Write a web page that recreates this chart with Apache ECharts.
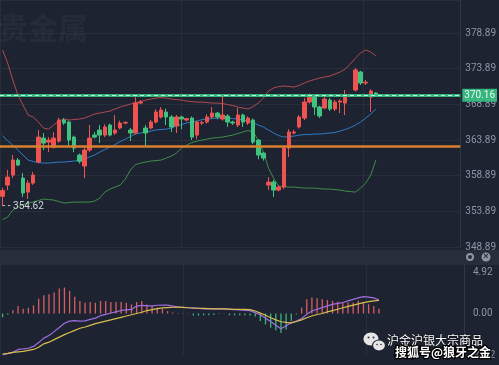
<!DOCTYPE html>
<html><head><meta charset="utf-8">
<script src="https://cdn.jsdelivr.net/npm/echarts@6/dist/echarts.min.js"></script>
<style>html,body{margin:0;padding:0;background:#1d2331;}#c{width:499px;height:365px;}</style>
</head><body><div id="c"></div>
<script>
// 90 slots on the time axis (74 candles + empty space on the right)
const categories = Array.from({length: 90}, (_, i) => 'K' + (i + 1));

const open = [356.0,357.57,358.97,361.08,358.55,356.59,357.85,360.80,364.16,363.6,
362.90,363.74,366.69,366.41,364.3,361.78,360.24,362.48,364.58,365.29,
364.58,365.99,364.87,365.57,366.27,365.29,364.87,369.07,365.57,365.57,
366.41,367.11,367.81,367.11,365.85,367.11,366.7,366.97,364.58,366.27,
366.41,367.11,367.67,366.83,367.25,366.41,365.99,367.39,366.27,366.69,
363.88,362.06,357.57,357.99,356.87,357.29,362.76,364.87,365.71,366.97,
369.21,369.91,368.51,368.37,369.49,368.23,369.21,369.07,370.1,370.90,
373.42,371.88,369.91,370.48];
const close = [356.8,358.69,361.08,360.38,356.45,357.85,358.97,364.30,363.46,363.88,
364.16,366.69,366.27,363.88,362.76,360.9,362.48,364.16,364.3,364.58,
365.71,364.58,365.29,366.27,366.35,364.87,369.07,369.21,364.87,366.41,
367.81,368.09,367.11,365.71,367.11,366.83,366.9,364.30,366.41,366.35,
367.11,367.67,367.11,367.39,366.41,366.27,367.39,366.41,366.97,363.60,
361.78,361.36,357.99,356.87,357.29,362.76,365.01,365.01,367.11,369.21,
369.91,368.51,367.25,369.63,368.23,369.21,369.35,369.91,370.2,373.70,
371.88,372.0,370.76,370.16];
const low = [354.62,356.87,358.55,360.24,355.89,355.61,357.6,360.6,362.48,362.2,
362.7,363.5,366.0,363.18,362.2,360.6,358.55,362.2,364.1,363.46,
364.3,364.4,364.58,365.4,366.1,363.74,364.7,368.9,362.9,365.4,
366.2,366.9,365.99,365.01,364.87,365.4,366.5,363.88,364.0,366.0,
366.2,366.9,366.8,366.6,365.71,366.0,365.7,365.71,366.0,363.3,
361.2,361.0,356.87,355.89,356.7,357.0,361.5,364.7,365.5,366.7,
369.0,367.39,366.97,368.2,367.95,367.95,367.67,367.39,369.9,370.7,
371.6,371.6,367.81,370.0];
const high = [357.2,359.68,361.78,361.36,359.26,358.27,359.4,365.29,364.87,364.3,
365.0,367.0,366.97,366.6,364.5,362.0,363.0,365.99,365.0,365.99,
366.1,366.2,367.39,366.6,366.5,365.6,369.91,369.49,366.0,366.7,
368.2,368.5,368.3,367.4,367.4,367.3,367.0,367.2,366.6,366.6,
367.5,368.5,367.8,370.05,367.5,366.6,368.37,367.6,367.2,366.9,
364.0,362.2,358.69,358.3,357.5,363.0,365.4,365.3,367.4,369.77,
370.4,370.1,368.7,369.9,369.8,369.5,369.6,370.9,370.3,374.0,
373.6,372.3,371.0,370.6];

const bollUpper = [376.51,374.68,372.30,370.19,368.79,367.39,367.11,366.41,365.57,365.42,
365.99,366.55,366.83,366.69,366.76,366.83,366.97,367.25,367.53,367.67,
367.81,367.95,368.23,368.51,368.72,368.93,369.14,369.28,369.49,369.63,
369.77,369.84,369.77,369.63,369.56,369.49,369.35,369.28,369.21,369.21,
369.14,369.07,369.07,369.0,368.86,368.72,368.51,368.37,368.23,368.58,
369.07,369.77,370.76,371.18,371.39,371.46,371.39,371.32,371.53,371.88,
372.16,372.37,372.58,372.72,372.86,373.14,373.42,373.84,374.54,375.38,
376.08,376.51,376.23,375.66];
const bollMid = [364.51,363.74,363.18,362.48,361.78,361.08,360.87,360.73,360.66,360.66,
360.73,360.80,360.80,360.87,360.94,361.08,361.22,361.50,361.78,362.20,
362.55,362.90,363.25,363.67,364.02,364.37,364.73,364.87,365.01,365.15,
365.29,365.36,365.42,365.57,365.85,366.06,366.27,366.41,366.55,366.76,
366.83,366.90,366.97,366.97,366.97,366.90,366.83,366.69,366.55,366.34,
365.99,365.71,365.29,364.87,364.51,364.30,364.37,364.44,364.58,364.65,
364.65,364.73,364.73,364.80,364.87,364.94,365.15,365.36,365.64,365.99,
366.41,366.97,367.53,368.23];
const bollLower = [352.73,353.08,354.07,354.49,354.84,355.05,355.19,355.40,355.61,355.54,
355.47,355.26,355.05,355.12,355.19,355.19,355.19,355.19,355.33,355.75,
356.59,357.01,357.29,357.57,358.41,359.68,360.45,360.66,360.80,360.94,
361.01,361.08,361.36,361.64,362.06,362.76,363.18,363.53,363.74,363.88,
364.02,364.16,364.23,364.30,364.44,364.58,364.80,365.01,365.22,365.01,
363.88,362.20,359.96,358.55,357.43,357.36,357.29,357.29,357.22,357.15,
357.15,357.15,357.08,357.01,357.01,356.94,356.87,356.73,356.66,356.59,
357.15,357.85,358.97,361.08];

const macdHist = [-0.45,-0.15,0.4,0.88,0.56,0.68,0.96,1.76,2.16,2.28,
2.48,2.96,3.08,2.68,2.0,1.48,1.28,1.36,1.28,1.48,
1.48,1.36,1.36,1.36,1.28,1.08,1.36,1.48,1.08,0.88,
0.68,0.56,0.28,0.12,0.06,0.04,-0.04,-0.25,-0.25,-0.22,
-0.2,-0.18,-0.05,-0.04,-0.2,-0.22,-0.2,-0.22,-0.25,-0.35,
-0.9,-1.3,-1.7,-2.0,-2.3,-1.9,-0.9,-0.1,0.7,1.7,
1.9,1.8,1.7,1.6,1.5,1.4,1.3,1.3,1.3,1.5,
1.3,1.1,0.9,0.56];
const macdDif = [-4.9,-4.75,-4.6,-4.26,-4.2,-4.12,-3.9,-3.45,-2.92,-2.6,
-2.15,-1.65,-1.15,-0.9,-0.84,-0.9,-0.88,-0.7,-0.55,-0.26,
-0.1,0.06,0.2,0.36,0.42,0.48,0.88,0.96,0.9,0.9,
0.98,1.0,1.0,0.88,0.76,0.72,0.68,0.64,0.6,0.56,
0.56,0.56,0.56,0.54,0.5,0.46,0.42,0.38,0.34,0.1,
-0.15,-0.55,-0.95,-1.4,-1.8,-1.44,-1.1,-0.9,-0.6,-0.1,
0.3,0.5,0.7,0.9,1.08,1.2,1.3,1.5,1.68,1.85,
2.0,1.95,1.85,1.6];
const macdDea = [-4.8,-4.72,-4.6,-4.55,-4.5,-4.38,-4.26,-4.0,-3.6,-3.4,
-3.1,-2.8,-2.5,-2.25,-2.0,-1.75,-1.6,-1.4,-1.2,-1.05,
-0.9,-0.75,-0.6,-0.45,-0.3,-0.15,0.0,0.15,0.35,0.45,
0.58,0.66,0.7,0.74,0.76,0.72,0.68,0.65,0.62,0.6,
0.58,0.56,0.55,0.54,0.52,0.5,0.49,0.48,0.46,0.3,
0.05,-0.2,-0.5,-0.75,-0.98,-1.06,-1.12,-0.95,-0.75,-0.5,
-0.3,-0.12,0.0,0.2,0.35,0.5,0.68,0.85,1.0,1.15,
1.28,1.4,1.5,1.56];

const priceTicks = [348.89, 353.89, 358.89, 363.89, 368.89, 373.89, 378.89];
const macdTicks = [-4.92, 0, 4.92];
const lastPrice = 370.16;
const supportLine = 363.04;
const lowMark = 354.62;

const candles = open.map((o, i) => [o, close[i], low[i], high[i]]);

const UP = '#ef5350', DOWN = '#3ec47e';
const BG = '#1d2331';
const GRIDLINE = '#272e3c';
const LABEL = '#8d96a5';

const chart = echarts.init(document.getElementById('c'), null, {renderer: 'canvas'});
const tickStep = priceTicks[1] - priceTicks[0];
const priceMin = priceTicks[0];
const priceMax = 383.52;

chart.setOption({
  backgroundColor: BG,
  animation: false,
  grid: [
    {left: 0, right: 35, top: 0, height: 247},
    {left: 0, right: 35, top: 265, height: 90}
  ],
  xAxis: [
    {type: 'category', data: categories, gridIndex: 0, boundaryGap: true,
     axisLine: {show: false}, axisTick: {show: false}, axisLabel: {show: false}, splitLine: {show: false}},
    {type: 'value', gridIndex: 0, min: 16.3, max: 106.3, interval: 35.5,
     axisLine: {show: false}, axisTick: {show: false}, axisLabel: {show: false},
     splitLine: {show: true, lineStyle: {color: GRIDLINE, width: 1}}},
    {type: 'category', data: categories, gridIndex: 1, boundaryGap: true,
     axisLine: {show: false}, axisTick: {show: false}, axisLabel: {show: false}, splitLine: {show: false}},
    {type: 'value', gridIndex: 1, min: 16.3, max: 106.3, interval: 35.5,
     axisLine: {show: false}, axisTick: {show: false}, axisLabel: {show: false},
     splitLine: {show: true, lineStyle: {color: GRIDLINE, width: 1}}}
  ],
  yAxis: [
    {type: 'value', gridIndex: 0, min: priceMin, max: priceMax, show: false, splitLine: {show: false}},
    {type: 'value', gridIndex: 0, position: 'right', min: 0, max: priceMax - priceMin, interval: tickStep,
     axisLine: {show: true, lineStyle: {color: '#303847'}}, axisTick: {show: false},
     axisLabel: {color: LABEL, fontSize: 10, fontFamily: 'Roboto', margin: 5, showMaxLabel: false,
       formatter: v => { const t = priceTicks[Math.round(v / tickStep)]; return t === undefined ? '' : t.toFixed(2); }},
     splitLine: {show: true, lineStyle: {color: GRIDLINE, width: 1}}},
    {type: 'value', gridIndex: 1, position: 'right', min: macdTicks[0], max: 5.75, interval: macdTicks[2],
     axisLine: {show: true, lineStyle: {color: '#303847'}}, axisTick: {show: false},
     axisLabel: {color: LABEL, fontSize: 10, fontFamily: 'Roboto', margin: 9, showMaxLabel: false,
       formatter: v => v.toFixed(2)},
     splitLine: {show: false}}
  ],
  series: [
    {type: 'line', name: 'UP', xAxisIndex: 0, yAxisIndex: 0, data: bollUpper, symbol: 'none',
     lineStyle: {color: '#b04a50', width: 1}, z: 2},
    {type: 'line', name: 'MB', xAxisIndex: 0, yAxisIndex: 0, data: bollMid, symbol: 'none',
     lineStyle: {color: '#2f7bc8', width: 1}, z: 2},
    {type: 'line', name: 'DN', xAxisIndex: 0, yAxisIndex: 0, data: bollLower, symbol: 'none',
     lineStyle: {color: '#3f8e48', width: 1}, z: 2},
    {type: 'candlestick', xAxisIndex: 0, yAxisIndex: 0, data: candles, barWidth: 4, z: 3,
     itemStyle: {color: UP, color0: DOWN, borderColor: UP, borderColor0: DOWN, borderWidth: 1},
     markLine: {
       symbol: ['none', 'none'], silent: true, animation: false, precision: 2,
       data: [
         {yAxis: supportLine, lineStyle: {color: '#d9802e', width: 2.5, type: 'solid'}, label: {show: false}},
         {yAxis: lastPrice, lineStyle: {color: '#38c487', width: 3, type: 'solid', opacity: 0.9},
          label: {show: true, position: 'end', distance: 2, formatter: lastPrice.toFixed(2),
                  backgroundColor: '#38c487', color: '#ffffff', fontSize: 10, fontFamily: 'Roboto',
                  padding: [2, 2, 1, 2]}},
         {yAxis: lastPrice, lineStyle: {color: '#b9f5d8', width: 1, type: [4, 3]}, label: {show: false}}
       ]
     },
     markPoint: {
       silent: true, animation: false,
       data: [{coord: [categories[0], lowMark], symbol: 'circle', symbolSize: 0,
               label: {show: true, position: 'right', distance: 0, formatter: '- - ' + lowMark.toFixed(2),
                       color: '#d0d4db', fontSize: 10, fontFamily: 'Roboto'}}]
     }},
    {type: 'bar', name: 'MACD', xAxisIndex: 2, yAxisIndex: 2, data: macdHist, barWidth: 1.3,
     itemStyle: {color: p => p.value >= 0 ? '#d85e62' : '#3cb47c'}},
    {type: 'line', name: 'DIF', xAxisIndex: 2, yAxisIndex: 2, data: macdDif, symbol: 'none',
     lineStyle: {color: '#a06ee0', width: 1.2}},
    {type: 'line', name: 'DEA', xAxisIndex: 2, yAxisIndex: 2, data: macdDea, symbol: 'none',
     lineStyle: {color: '#d8bd4e', width: 1.2}}
  ],
  graphic: [
    {type: 'text', silent: true, z: 1, style: {x: -2, y: 28, text: '贵金属', fill: 'rgba(140,150,170,0.07)',
      font: 'bold 30px "Noto Sans CJK SC"', verticalAlign: 'middle'}},
    {type: 'rect', silent: true, z: 0, shape: {x: 0, y: 250, width: 499, height: 15}, style: {fill: '#262d3b'}},
    {type: 'circle', silent: true, z: 10, shape: {cx: 470, cy: 257, r: 3}, style: {fill: 'none', stroke: '#8d95a3', lineWidth: 2}},
    {type: 'circle', silent: true, z: 10, shape: {cx: 486, cy: 257, r: 4.5}, style: {fill: '#8d95a3'}},
    {type: 'text', silent: true, z: 11, style: {x: 486, y: 257, text: '×', fill: '#262d3b', fontSize: 9, align: 'center', verticalAlign: 'middle', fontWeight: 'bold'}},
    // WeChat-style icon
    {type: 'ellipse', silent: true, z: 20, shape: {cx: 371, cy: 339, rx: 7.5, ry: 6.5}, style: {fill: '#e6e6e6'}},
    {type: 'ellipse', silent: true, z: 21, shape: {cx: 379, cy: 345.5, rx: 6.5, ry: 5.5}, style: {fill: '#e6e6e6', stroke: '#1d2331', lineWidth: 1.2}},
    {type: 'circle', silent: true, z: 22, shape: {cx: 368.5, cy: 337.5, r: 1}, style: {fill: '#333'}},
    {type: 'circle', silent: true, z: 22, shape: {cx: 373.5, cy: 337.5, r: 1}, style: {fill: '#333'}},
    {type: 'circle', silent: true, z: 22, shape: {cx: 377, cy: 344.5, r: 0.8}, style: {fill: '#333'}},
    {type: 'circle', silent: true, z: 22, shape: {cx: 381, cy: 344.5, r: 0.8}, style: {fill: '#333'}},
    {type: 'text', silent: true, z: 30, style: {x: 387, y: 340, text: '沪金沪银大宗商品', fill: '#ffffff',
      font: '12px "Noto Sans CJK SC"', verticalAlign: 'middle', stroke: 'rgba(0,0,0,0.6)', lineWidth: 1}},
    {type: 'text', silent: true, z: 30, style: {x: 395, y: 352, text: '搜狐号@狼牙之金', fill: '#ffffff',
      font: 'bold 12px "Noto Sans CJK SC"', verticalAlign: 'middle', stroke: '#000000', lineWidth: 2.5}}
  ]
});
</script>
</body></html>
